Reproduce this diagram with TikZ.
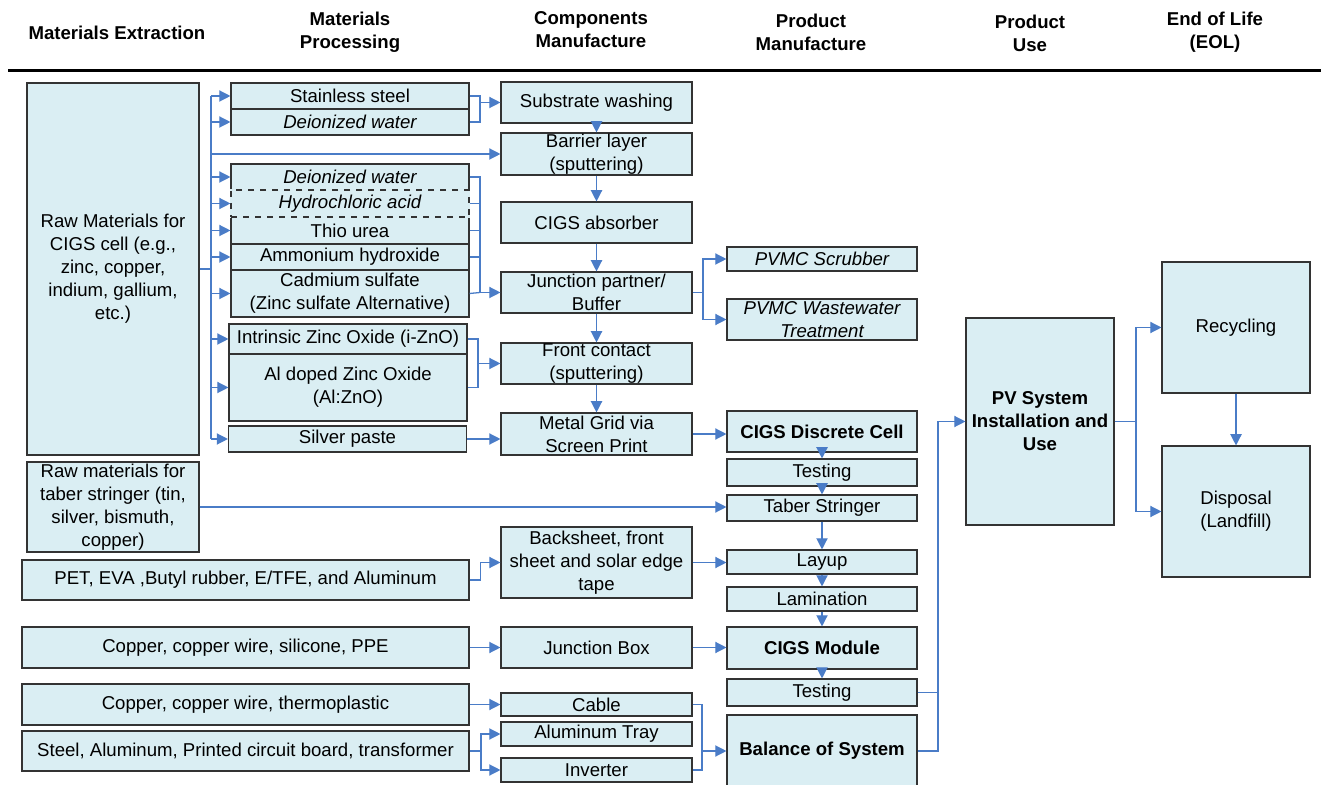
\documentclass[tikz,border=0pt]{standalone}
\usepackage{fontspec}
\setmainfont{Liberation Sans}
\usetikzlibrary{positioning,arrows.meta}
\definecolor{boxfill}{HTML}{DAEEF3}
\definecolor{boxline}{HTML}{333333}
\definecolor{linkblue}{HTML}{4A7CC7}
\tikzset{box/.style={draw=boxline,fill=boxfill,line width=0.55pt,inner sep=0pt,align=center,font=\fontsize{9.3}{11.5}\selectfont}}
\tikzset{procbox/.style={box,minimum width=119pt}}
\tikzset{compbox/.style={box,minimum width=95.5pt}}
\tikzset{prodbox/.style={box,minimum width=95pt}}
\tikzset{rawbox/.style={box,minimum width=223.5pt}}
\tikzset{head/.style={align=center,font=\bfseries\fontsize{9.3}{11.5}\selectfont}}
\tikzset{link/.style={draw=linkblue,line width=0.65pt}}
\tikzset{arr/.style={link,-{Triangle[length=5.6pt,width=5.6pt]}}}

\begin{document}
\begin{tikzpicture}[x=0.5pt,y=-0.5pt]
  \useasboundingbox (0,0) rectangle (1321,785);
  % stage headings
  \node[head] (h1) at (117,33) {Materials Extraction};
  \node[head] (h2) at (350,32) {Materials\\Processing};
  \node[head] (h3) at (591,30) {Components\\Manufacture};
  \node[head] (h4) at (811,32) {Product\\Manufacture};
  \node[head] (h5) at (1030,33) {Product\\Use};
  \node[head] (h6) at (1215,32) {End of Life\\(EOL)};
  \draw[line width=1.5pt] (8,71) -- (1325,71);

  % extraction
  \node[box,minimum width=86pt,minimum height=186pt] (rawcigs) at (113,269)
    {Raw Materials for\\CIGS cell (e.g.,\\zinc, copper,\\indium, gallium,\\etc.)};
  \node[box,minimum width=86pt,minimum height=45pt] (rawtaber) at (113,507)
    {Raw materials for\\taber stringer (tin,\\silver, bismuth,\\copper)};
  \node[rawbox,minimum height=20pt] (pet) at (245.5,580) {PET, EVA ,Butyl rubber, E/TFE, and Aluminum};
  \node[rawbox,minimum height=20.5pt] (ppe) at (245.5,647.5) {Copper, copper wire, silicone, PPE};
  \node[rawbox,minimum height=20.5pt] (thermo) at (245.5,704.5) {Copper, copper wire, thermoplastic};
  \node[rawbox,minimum height=20pt] (steel) at (245.5,751) {Steel, Aluminum, Printed circuit board, transformer};

  % processing
  \node[procbox,minimum height=13pt] (ss) at (350,96) {Stainless steel};
  \node[procbox,minimum height=13pt] (dwa) at (350,122) {\itshape Deionized water};
  \node[procbox,minimum height=13pt] (dwb) at (350,177) {\itshape Deionized water};
  \node[procbox,minimum height=13.5pt] (thio) at (350,230.5) {Thio urea};
  \node[procbox,minimum height=13pt] (amm) at (350,257) {Ammonium hydroxide};
  \node[procbox,minimum height=23.5pt] (cds) at (350,293.5) {Cadmium sulfate\\(Zinc sulfate Alternative)};
  \node[procbox,minimum height=13.5pt,dashed,preaction={draw=boxfill,solid,line width=1.4pt}] (hcl) at (350,203.5) {\itshape Hydrochloric acid};
  \node[procbox,minimum height=15pt] (izno) at (348,339) {Intrinsic Zinc Oxide (i-ZnO)};
  \node[procbox,minimum height=33.5pt] (azno) at (348,387.5) {Al doped Zinc Oxide\\(Al:ZnO)};
  \node[procbox,minimum height=13pt] (silver) at (347.5,439) {Silver paste};

  % components
  \node[compbox,minimum height=20.5pt] (wash) at (596.5,102.5) {Substrate washing};
  \node[compbox,minimum height=21pt] (barrier) at (596.5,154) {Barrier layer\\(sputtering)};
  \node[compbox,minimum height=20.5pt] (absorber) at (596.5,222.5) {CIGS absorber};
  \node[compbox,minimum height=20.5pt] (junction) at (596.5,292.5) {Junction partner/\\Buffer};
  \node[compbox,minimum height=20.5pt] (front) at (596.5,363.5) {Front contact\\(sputtering)};
  \node[compbox,minimum height=21pt] (grid) at (596.5,434) {Metal Grid via\\Screen Print};
  \node[compbox,minimum height=35.5pt] (back) at (596.5,562.5) {Backsheet, front\\sheet and solar edge\\tape};
  \node[compbox,minimum height=20.5pt] (jbox) at (596.5,647.5) {Junction Box};
  \node[compbox,minimum height=11.5pt] (cable) at (596.5,704.5) {Cable};
  \node[compbox,minimum height=12pt] (tray) at (596.5,734) {Aluminum Tray};
  \node[compbox,minimum height=12pt] (inverter) at (596.5,770) {Inverter};

  % product manufacture
  \node[prodbox,minimum height=12pt] (scrubber) at (822,259) {\itshape PVMC Scrubber};
  \node[prodbox,minimum height=20.5pt] (waste) at (822,319.5) {\itshape PVMC Wastewater\\\itshape Treatment};
  \node[prodbox,minimum height=20.5pt] (cell) at (822,431.5) {\bfseries CIGS Discrete Cell};
  \node[prodbox,minimum height=13.5pt] (testa) at (822,472.5) {Testing};
  \node[prodbox,minimum height=13pt] (stringer) at (822,508) {Taber Stringer};
  \node[prodbox,minimum height=12pt] (layup) at (822,562) {Layup};
  \node[prodbox,minimum height=12pt] (lamination) at (822,599) {Lamination};
  \node[prodbox,minimum height=21pt] (module) at (822,648) {\bfseries CIGS Module};
  \node[prodbox,minimum height=13.5pt] (testb) at (822,692.5) {Testing};
  \node[prodbox,minimum height=36pt] (bos) at (822,751) {\bfseries Balance of System};

  % use and end of life
  \node[box,minimum width=74pt,minimum height=103.5pt] (pv) at (1040,421.5) {\bfseries PV System\\\bfseries Installation and\\\bfseries Use};
  \node[box,minimum width=74pt,minimum height=65.5pt] (recycle) at (1236,327.5) {Recycling};
  \node[box,minimum width=74pt,minimum height=65.5pt] (disposal) at (1236,511.5) {Disposal\\(Landfill)};

  % junction points
  \coordinate (bus) at (211,269);
  \coordinate (ja) at (480,102.5);
  \coordinate (jb) at (480,292.5);
  \coordinate (jc) at (478,363.5);
  \coordinate (jd) at (703,292.5);
  \coordinate (je) at (481,751);
  \coordinate (jf) at (702,751);
  \coordinate (jg) at (938,421.5);
  \coordinate (jh) at (1136,421.5);

  % raw materials bus
  \draw[link] (rawcigs.east) -- (bus);
  \draw[link] (bus |- ss.west) -- (bus |- silver.west);
  \foreach \n in {ss,dwa,barrier,dwb,hcl,thio,amm,cds,izno,azno,silver}
    \draw[arr] (bus |- \n.west) -- (\n.west);

  % processing to components
  \draw[link] (ss.east) -| (ja) |- (dwa.east);
  \draw[arr] (ja) -- (wash.west);
  \draw[link] (dwb.east) -| (jb);
  \foreach \n in {hcl,thio,amm}
    \draw[link] (\n.east) -- (\n.east -| jb);
  \draw[link] (cds.east) -- (jb);
  \draw[arr] (jb) -- (junction.west);
  \draw[link] (izno.east) -| (jc) |- (azno.east);
  \draw[arr] (jc) -- (front.west);
  \draw[arr] (silver.east) -- (silver.east -| grid.west);

  % cell line
  \foreach \a/\b in {wash/barrier,barrier/absorber,absorber/junction,junction/front,front/grid}
    \draw[arr] (\a.south) -- (\b.north);
  \draw[link] (junction.east) -- (jd);
  \draw[arr] (jd) |- (scrubber.west);
  \draw[arr] (jd) |- (waste.west);
  \draw[arr] (grid.east) -- (grid.east -| cell.west);

  % module line
  \foreach \a/\b in {cell/testa,testa/stringer,stringer/layup,layup/lamination,lamination/module,module/testb}
    \draw[arr] (\a.south) -- (\b.north);
  \draw[arr] (rawtaber.east) -- (rawtaber.east -| stringer.west);
  \draw[arr] (pet.east) -- ++(11,0) |- (back.west);
  \draw[arr] (back.east) -- (back.east -| layup.west);
  \draw[arr] (ppe.east) -- (jbox.west);
  \draw[arr] (jbox.east) -- (jbox.east -| module.west);

  % balance of system
  \draw[arr] (thermo.east) -- (cable.west);
  \draw[link] (steel.east) -- (je);
  \draw[arr] (je) |- (tray.west);
  \draw[arr] (je) |- (inverter.west);
  \draw[link] (cable.east) -| (jf) |- (inverter.east);
  \draw[arr] (jf) -- (bos.west);

  % use and end of life
  \draw[link] (testb.east) -| (jg);
  \draw[link] (bos.east) -| (jg);
  \draw[arr] (jg) -- (pv.west);
  \draw[link] (pv.east) -- (jh);
  \draw[arr] (jh) |- (recycle.west);
  \draw[arr] (jh) |- (disposal.west);
  \draw[arr] (recycle.south) -- (disposal.north);
\end{tikzpicture}
\end{document}
